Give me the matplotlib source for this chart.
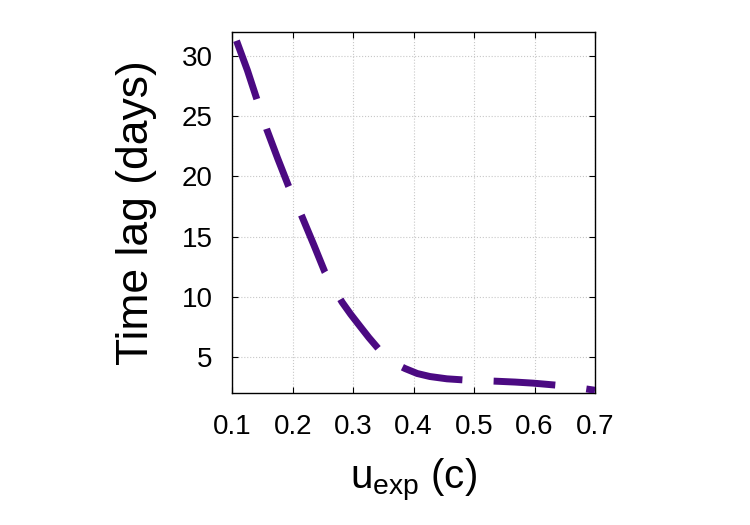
import numpy as np
import matplotlib
matplotlib.use("Agg")
import matplotlib.pyplot as plt

plt.rcParams["font.family"] = ["Liberation Sans", "DejaVu Sans"]
plt.rcParams["mathtext.fontset"] = "custom"
plt.rcParams["mathtext.rm"] = "Liberation Sans"
plt.rcParams["mathtext.it"] = "Liberation Sans"

# time lag vs expansion speed
u_exp = [0.107, 0.125, 0.140, 0.157, 0.175, 0.193, 0.215, 0.235,
         0.253, 0.268, 0.2815, 0.296, 0.311, 0.326, 0.3415, 0.363, 0.386,
         0.406, 0.427, 0.455, 0.482, 0.510, 0.537, 0.568, 0.598, 0.637,
         0.667, 0.700]
lag = [31.25, 28.8, 26.5, 23.9, 21.5, 19.2, 16.7, 14.3,
       12.08, 10.75, 9.57, 8.55, 7.58, 6.62, 5.71, 4.62, 4.05,
       3.64, 3.39, 3.20, 3.11, 3.05, 3.00, 2.93, 2.84, 2.67,
       2.50, 2.25]
xticks = [0.1, 0.2, 0.3, 0.4, 0.5, 0.6, 0.7]
yticks = [5, 10, 15, 20, 25, 30]

fig = plt.figure(figsize=(7.5, 5.25), dpi=100)
ax = fig.add_axes([0.3097, 0.2509, 0.4836, 0.6887])

ax.plot(u_exp, lag, color="#4b0a82", lw=5, dashes=(8.9, 4.5),
        dash_capstyle="butt", solid_capstyle="butt", zorder=3)

ax.set_xlim(0.1, 0.7)
ax.set_ylim(2, 32)
ax.set_xticks(xticks)
ax.set_yticks(yticks)
ax.grid(True, color="#c8c8c8", linestyle=":", linewidth=0.8)
ax.tick_params(direction="in", top=True, right=True, length=4, width=0.8,
               labelsize=20, colors="black")
ax.tick_params(axis="x", pad=15)
ax.tick_params(axis="y", pad=14)
for s in ax.spines.values():
    s.set_linewidth(1.0)

ax.set_xlabel(r"u$_{\rm exp}$ (c)", fontsize=29, labelpad=12)
ax.set_ylabel("Time lag (days)", fontsize=32, labelpad=18)

fig.savefig("out.png", dpi=100)
